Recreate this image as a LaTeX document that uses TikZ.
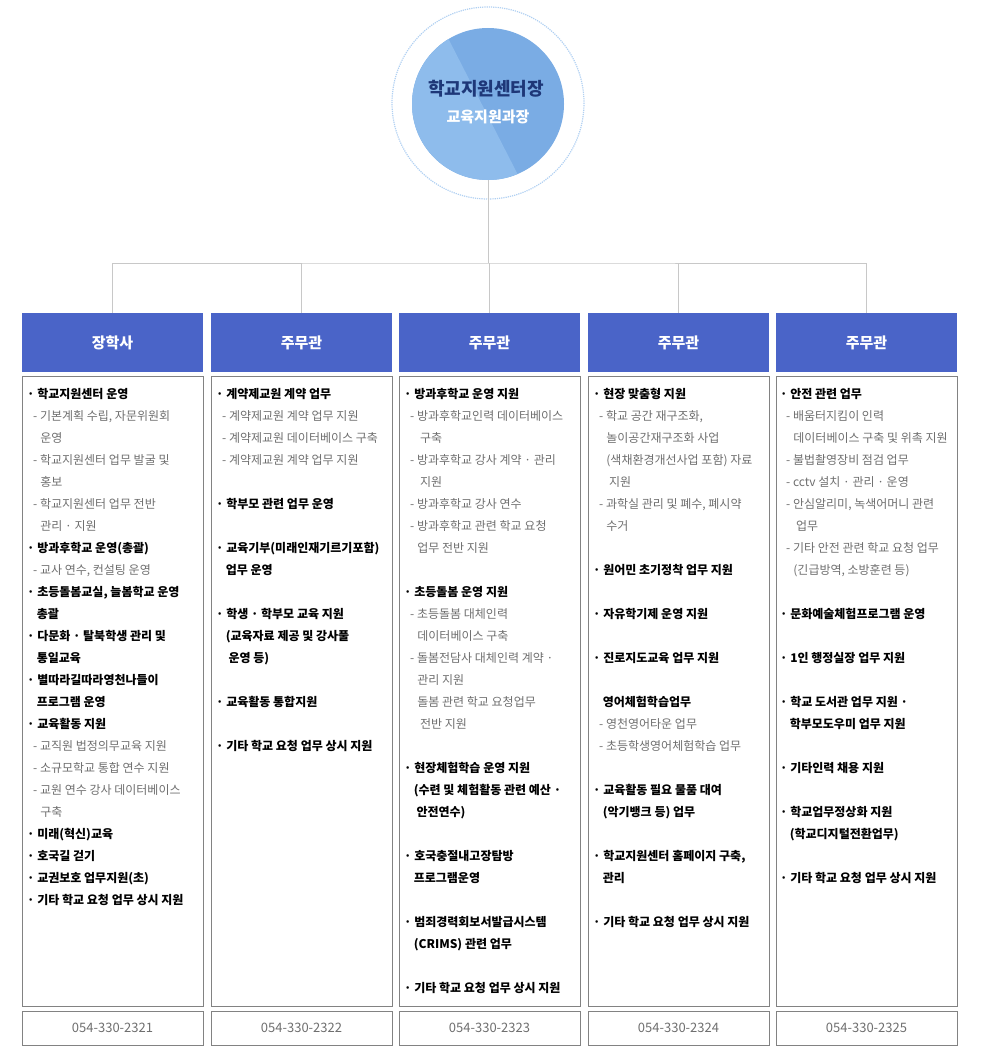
\documentclass[tikz,border=0pt]{standalone}
\usepackage{fontspec}
\setmainfont{Noto Sans CJK KR}
\definecolor{hdr}{RGB}{74,100,200}
\definecolor{lnk}{RGB}{200,200,200}
\definecolor{bord}{RGB}{130,130,130}
\definecolor{sub}{RGB}{110,110,110}
\definecolor{circA}{RGB}{122,172,228}
\definecolor{circB}{RGB}{142,188,236}
\definecolor{navy}{RGB}{30,55,120}
\newcommand{\bi}[1]{{\bfseries ·\ #1}}
\newcommand{\bc}[1]{\hspace*{0.8em}{\bfseries #1}}
\newcommand{\sbi}[1]{\hspace*{0.5em}{\color{sub}- #1}}
\newcommand{\sbc}[1]{\hspace*{1.1em}{\color{sub}#1}}
\begin{document}
\begin{tikzpicture}[x=1pt,y=-1pt,
  hbox/.style={fill=hdr,text=white,minimum width=181pt,minimum height=59pt,inner sep=0pt,font=\fontsize{15}{18}\selectfont\bfseries},
  cbox/.style={draw=bord,line width=0.6pt},
  pbox/.style={draw=bord,line width=0.6pt,minimum width=181pt,minimum height=34pt,inner sep=0pt,text=sub,font=\fontsize{13}{16}\selectfont},
  items/.style={anchor=north west,inner sep=0pt,align=left,font=\fontsize{12}{22}\selectfont},
  link/.style={draw=lnk,line width=0.8pt}]
\useasboundingbox (0,0) rectangle (990,1046);
% circle
\draw[densely dotted,line width=1.2pt,draw=circB!70] (488,103) circle (96);
\begin{scope}
\clip (488,104) circle (76);
\fill[circA] (400,20) rectangle (580,190);
\fill[circB] (400,20) -- (448,20) -- (448,38) -- (517,173) -- (517,190) -- (400,190) -- cycle;
\end{scope}
\node[coordinate] (cb) at (488,180) {};
\node[text=navy,font=\fontsize{18}{20}\selectfont\bfseries] (t1) at (486,89) {학교지원센터장};
\node[text=white,font=\fontsize{15}{18}\selectfont\bfseries] (t2) at (488,117) {교육지원과장};
% headers
\node[hbox] (h1) at (112.5,342.5) {장학사};
\node[hbox] (h2) at (301.5,342.5) {주무관};
\node[hbox] (h3) at (489.5,342.5) {주무관};
\node[hbox] (h4) at (678.5,342.5) {주무관};
\node[hbox] (h5) at (866.5,342.5) {주무관};
\coordinate (j) at (488,263);
\draw[link] (cb) -- (j);
\draw[link] (h1.north) |- (j) -| (h5.north);
\draw[link] (h2.north) -- (h2.north|-j);
\draw[link] (h3.north) -- (h3.north|-j);
\draw[link] (h4.north) -- (h4.north|-j);
% content boxes
\foreach \x in {22,211,399,588,776}{\draw[cbox] (\x,376) rectangle ++(181,630);}
\node[pbox] (p1) at (112.5,1028) {054-330-2321};
\node[pbox] (p2) at (301.5,1028) {054-330-2322};
\node[pbox] (p3) at (489.5,1028) {054-330-2323};
\node[pbox] (p4) at (678.5,1028) {054-330-2324};
\node[pbox] (p5) at (866.5,1028) {054-330-2325};
% column texts
\node[items] (c1) at (27,388) {%
\bi{학교지원센터 운영}\\
\sbi{기본계획 수립, 자문위원회}\\
\sbc{운영}\\
\sbi{학교지원센터 업무 발굴 및}\\
\sbc{홍보}\\
\sbi{학교지원센터 업무 전반}\\
\sbc{관리 · 지원}\\
\bi{방과후학교 운영(총괄)}\\
\sbi{교사 연수, 컨설팅 운영}\\
\bi{초등돌봄교실, 늘봄학교 운영}\\
\bc{총괄}\\
\bi{다문화 · 탈북학생 관리 및}\\
\bc{통일교육}\\
\bi{별따라길따라영천나들이}\\
\bc{프로그램 운영}\\
\bi{교육활동 지원}\\
\sbi{교직원 법정의무교육 지원}\\
\sbi{소규모학교 통합 연수 지원}\\
\sbi{교원 연수 강사 데이터베이스}\\
\sbc{구축}\\
\bi{미래(혁신)교육}\\
\bi{호국길 걷기}\\
\bi{교권보호 업무지원(초)}\\
\bi{기타 학교 요청 업무 상시 지원}};
\node[items] (c2) at (216,388) {%
\bi{계약제교원 계약 업무}\\
\sbi{계약제교원 계약 업무 지원}\\
\sbi{계약제교원 데이터베이스 구축}\\
\sbi{계약제교원 계약 업무 지원}\\
\mbox{}\\
\bi{학부모 관련 업무 운영}\\
\mbox{}\\
\bi{교육기부(미래인재기르기포함)}\\
\bc{업무 운영}\\
\mbox{}\\
\bi{학생 · 학부모 교육 지원}\\
\bc{(교육자료 제공 및 강사풀}\\
\bc{\ 운영 등)}\\
\mbox{}\\
\bi{교육활동 통합지원}\\
\mbox{}\\
\bi{기타 학교 요청 업무 상시 지원}};
\node[items] (c3) at (404,388) {%
\bi{방과후학교 운영 지원}\\
\sbi{방과후학교인력 데이터베이스}\\
\sbc{\ 구축}\\
\sbi{방과후학교 강사 계약 · 관리}\\
\sbc{\ 지원}\\
\sbi{방과후학교 강사 연수}\\
\sbi{방과후학교 관련 학교 요청}\\
\sbc{업무 전반 지원}\\
\mbox{}\\
\bi{초등돌봄 운영 지원}\\
\sbi{초등돌봄 대체인력}\\
\sbc{데이터베이스 구축}\\
\sbi{돌봄전담사 대체인력 계약 ·}\\
\sbc{관리 지원}\\
\sbc{돌봄 관련 학교 요청업무}\\
\sbc{\ 전반 지원}\\
\mbox{}\\
\bi{현장체험학습 운영 지원}\\
\bc{(수련 및 체험활동 관련 예산 ·}\\
\bc{\ 안전연수)}\\
\mbox{}\\
\bi{호국충절내고장탐방}\\
\bc{프로그램운영}\\
\mbox{}\\
\bi{범죄경력회보서발급시스템}\\
\bc{(CRIMS) 관련 업무}\\
\mbox{}\\
\bi{기타 학교 요청 업무 상시 지원}};
\node[items] (c4) at (593,388) {%
\bi{현장 맞춤형 지원}\\
\sbi{학교 공간 재구조화,}\\
\sbc{놀이공간재구조화 사업}\\
\sbc{(색채환경개선사업 포함) 자료}\\
\sbc{\ 지원}\\
\sbi{과학실 관리 및 폐수, 폐시약}\\
\sbc{수거}\\
\mbox{}\\
\bi{원어민 초기정착 업무 지원}\\
\mbox{}\\
\bi{자유학기제 운영 지원}\\
\mbox{}\\
\bi{진로지도교육 업무 지원}\\
\mbox{}\\
\bc{영어체험학습업무}\\
\sbi{영천영어타운 업무}\\
\sbi{초등학생영어체험학습 업무}\\
\mbox{}\\
\bi{교육활동 필요 물품 대여}\\
\bc{(악기뱅크 등) 업무}\\
\mbox{}\\
\bi{학교지원센터 홈페이지 구축,}\\
\bc{관리}\\
\mbox{}\\
\bi{기타 학교 요청 업무 상시 지원}};
\node[items] (c5) at (780,388) {%
\bi{안전 관련 업무}\\
\sbi{배움터지킴이 인력}\\
\sbc{데이터베이스 구축 및 위촉 지원}\\
\sbi{불법촬영장비 점검 업무}\\
\sbi{cctv 설치 · 관리 · 운영}\\
\sbi{안심알리미, 녹색어머니 관련}\\
\sbc{\ 업무}\\
\sbi{기타 안전 관련 학교 요청 업무}\\
\sbc{(긴급방역, 소방훈련 등)}\\
\mbox{}\\
\bi{문화예술체험프로그램 운영}\\
\mbox{}\\
\bi{1인 행정실장 업무 지원}\\
\mbox{}\\
\bi{학교 도서관 업무 지원 ·}\\
\bc{학부모도우미 업무 지원}\\
\mbox{}\\
\bi{기타인력 채용 지원}\\
\mbox{}\\
\bi{학교업무정상화 지원}\\
\bc{(학교디지털전환업무)}\\
\mbox{}\\
\bi{기타 학교 요청 업무 상시 지원}};
\end{tikzpicture}
\end{document}
